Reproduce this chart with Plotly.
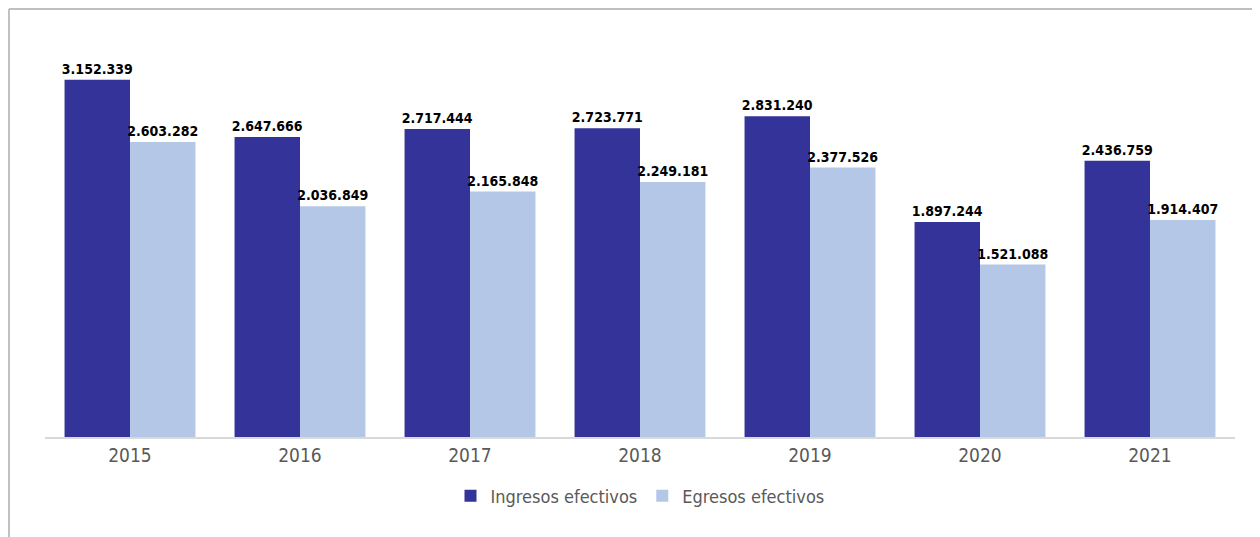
import plotly.graph_objects as go

years = ['2015', '2016', '2017', '2018', '2019', '2020', '2021']
ingresos = [3152339, 2647666, 2717444, 2723771, 2831240, 1897244, 2436759]
egresos = [2603282, 2036849, 2165848, 2249181, 2377526, 1521088, 1914407]


def fmt(v):
    return f'{v:,}'.replace(',', '.')


NARROW = 'Liberation Sans Narrow, Arial Narrow, DejaVu Sans Condensed, sans-serif'
label_font = dict(family=NARROW, size=14, color='#000000', weight='bold')

fig = go.Figure()
fig.add_trace(go.Bar(
    x=years, y=ingresos, name='Ingresos efectivos',
    marker_color='#333399', marker_line_width=0,
    text=[fmt(v) for v in ingresos], textposition='outside',
    textfont=label_font, constraintext='none', cliponaxis=False,
))
fig.add_trace(go.Bar(
    x=years, y=egresos, name='Egresos efectivos',
    marker_color='#B4C7E7', marker_line_width=0,
    text=[fmt(v) for v in egresos], textposition='outside',
    textfont=label_font, constraintext='none', cliponaxis=False,
))

# outer frame of the chart (cut off at right and bottom)
fig.add_shape(type='line', xref='paper', yref='paper',
              x0=-0.0303, x1=-0.0303, y0=1.049, y1=-0.4,
              line=dict(color='#BFBFBF', width=2))
fig.add_shape(type='line', xref='paper', yref='paper',
              x0=-0.0303, x1=1.1, y0=1.049, y1=1.049,
              line=dict(color='#BFBFBF', width=2))

fig.update_layout(
    width=1252, height=529,
    margin=dict(l=37, r=25, t=21, b=100),
    plot_bgcolor='white', paper_bgcolor='white',
    barmode='group', bargap=0.23, bargroupgap=0,
    xaxis=dict(showline=True, linecolor='#D9D9D9', linewidth=1.5,
               ticks='', tickfont=dict(family=NARROW, size=19, color='#595959')),
    yaxis=dict(range=[0, 3600000], visible=False, showgrid=False),
    legend=dict(orientation='h', x=0.5, xanchor='center', y=-0.145, yanchor='middle',
                font=dict(family=NARROW, size=18, color='#595959'),
                itemwidth=30, traceorder='normal'),
    showlegend=True,
)

fig.write_html('out.html')
